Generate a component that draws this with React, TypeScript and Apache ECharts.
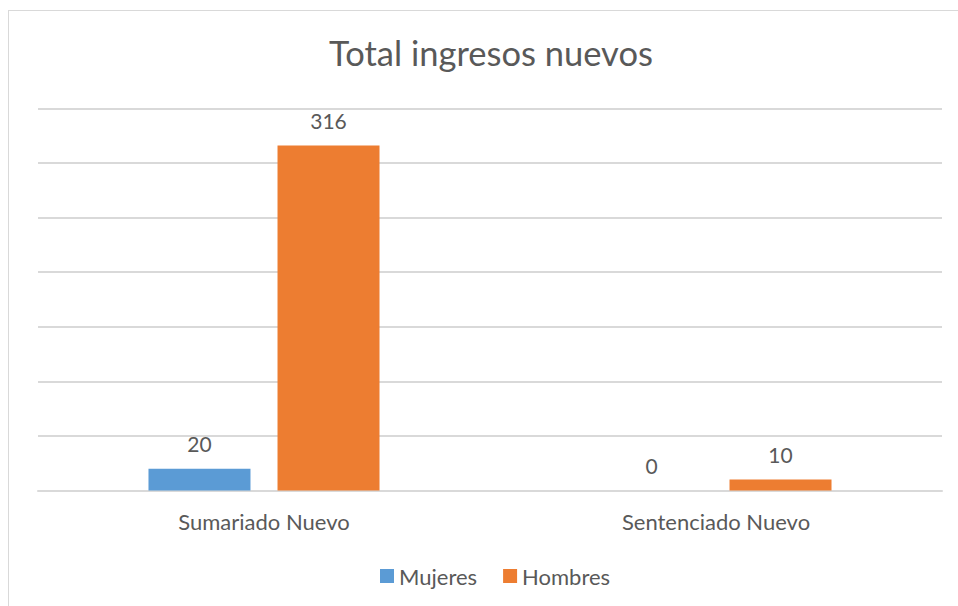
import React, { useEffect, useRef } from "react";
import * as echarts from "echarts";

const categories = ["Sumariado Nuevo", "Sentenciado Nuevo"];
const mujeres = [20, 0];
const hombres = [316, 10];
const seriesNames = ["Mujeres", "Hombres"];
const titleText = "Total ingresos nuevos";

const FONT = "Lato, 'Open Sans', sans-serif";
const TEXT = "#595959";
const GRID = "#d9d9d9";

export default function App() {
  const ref = useRef<HTMLDivElement>(null);
  useEffect(() => {
    if (!ref.current) return;
    const chart = echarts.init(ref.current, null, { renderer: "svg" });
    const label = {
      show: true,
      position: "top" as const,
      distance: 15,
      color: TEXT,
      fontFamily: FONT,
      fontSize: 21,
      lineHeight: 21,
    };
    chart.setOption({
      animation: false,
      textStyle: { fontFamily: FONT },
      title: {
        text: titleText,
        left: 491,
        top: 32,
        padding: 0,
        textAlign: "center",
        textStyle: { color: TEXT, fontSize: 34.5, fontWeight: "normal", fontFamily: FONT, lineHeight: 40 },
      },
      legend: {
        left: 380,
        top: 565,
        padding: 0,
        itemWidth: 14,
        itemHeight: 14,
        itemGap: 26,
        icon: "rect",
        textStyle: { color: TEXT, fontSize: 22, lineHeight: 22, fontFamily: FONT },
        data: seriesNames,
      },
      grid: { left: 38, right: 16, top: 108.5, bottom: 115.5, containLabel: false },
      xAxis: {
        type: "category",
        data: categories,
        axisLine: { lineStyle: { color: GRID, width: 2 } },
        axisTick: { show: false },
        axisLabel: { color: TEXT, fontSize: 22, lineHeight: 22, margin: 20, fontFamily: FONT },
      },
      yAxis: {
        type: "value",
        min: 0,
        max: 350,
        interval: 50,
        axisLabel: { show: false },
        axisLine: { show: false },
        axisTick: { show: false },
        splitLine: { lineStyle: { color: GRID, width: 2 } },
      },
      series: [
        {
          name: seriesNames[0],
          type: "bar",
          data: mujeres,
          barWidth: 102,
          barGap: "26.5%",
          itemStyle: { color: "#5B9BD5" },
          label,
        },
        {
          name: seriesNames[1],
          type: "bar",
          data: hombres,
          barWidth: 102,
          barGap: "26.5%",
          itemStyle: { color: "#ED7D31" },
          label,
        },
      ],
    });
    return () => chart.dispose();
  }, []);
  return (
    <div style={{ position: "fixed", left: 0, top: 0, width: 958, height: 606, background: "#fff", overflow: "hidden" }}>
      <div
        style={{
          position: "absolute",
          left: 8,
          top: 10,
          right: -4,
          bottom: -4,
          borderTop: "1.5px solid #d9d9d9",
          borderLeft: "1.5px solid #d9d9d9",
          boxSizing: "border-box",
        }}
      />
      <div ref={ref} style={{ position: "absolute", left: 0, top: 0, width: 958, height: 606 }} />
    </div>
  );
}
